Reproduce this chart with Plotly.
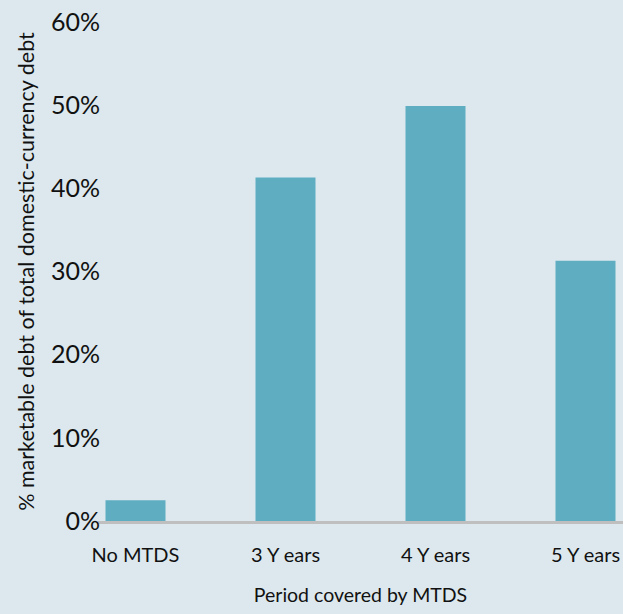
import plotly.graph_objects as go

categories = ["No MTDS", "3 Y ears", "4 Y ears", "5 Y ears"]
values = [2.5, 41.3, 49.9, 31.3]
y_ticks = [0, 10, 20, 30, 40, 50, 60]
y_tick_labels = ["0%", "10%", "20%", "30%", "40%", "50%", "60%"]

BG = "#dce8ed"
BAR = "#5fadc1"
FONT = "Lato, Open Sans, sans-serif"

fig = go.Figure(go.Bar(
    x=list(range(len(categories))), y=values,
    marker=dict(color=BAR, line=dict(width=0)),
    width=0.4,
))

fig.update_layout(
    width=623, height=614,
    margin=dict(l=98, r=0, t=22, b=93),
    paper_bgcolor=BG, plot_bgcolor=BG,
    font=dict(family=FONT, color="#111111"),
    showlegend=False,
    xaxis=dict(
        range=[-0.25, 3.25],
        tickmode="array", tickvals=list(range(len(categories))), ticktext=categories,
        tickfont=dict(size=20), showgrid=False, zeroline=False,
        showline=True, linecolor="#bfbfbf", linewidth=3,
        ticks="outside", ticklen=14, tickcolor=BG,
        title=dict(text="Period covered by MTDS", font=dict(size=19.5), standoff=24),
    ),
    yaxis=dict(
        range=[0, 60],
        tickmode="array", tickvals=y_ticks, ticktext=y_tick_labels,
        tickfont=dict(size=25), showgrid=False, zeroline=False, showline=False,
        ticks="", ticklabelstandoff=-3,
        title=dict(text="% marketable debt of total domestic-currency debt", font=dict(size=21.5), standoff=10),
    ),
)

fig.write_html("out.html")
